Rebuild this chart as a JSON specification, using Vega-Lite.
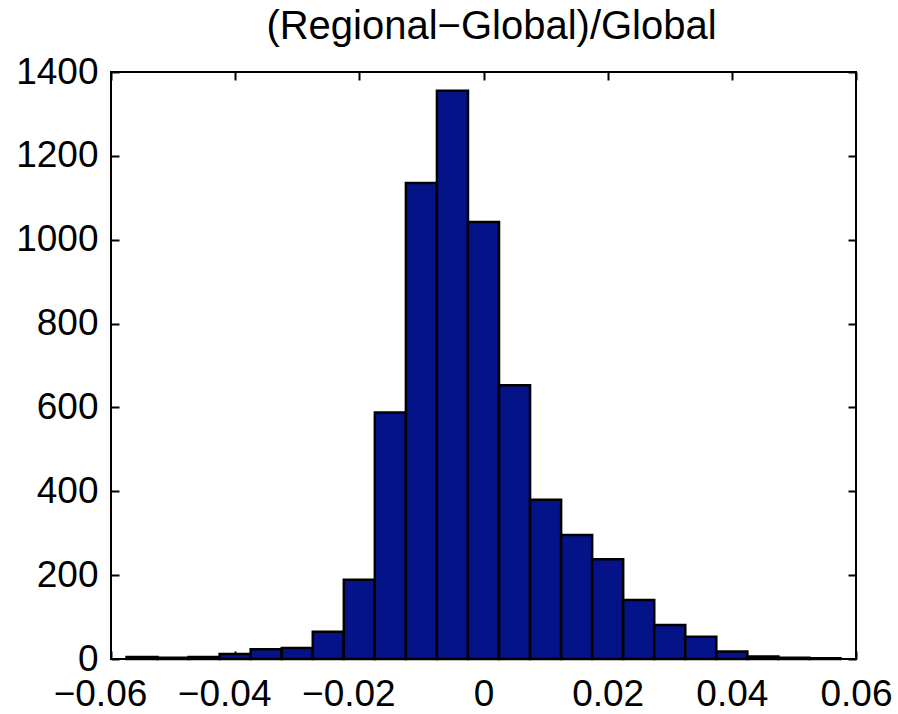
{
  "$schema": "https://vega.github.io/schema/vega-lite/v6.json",
  "width": 745,
  "height": 587,
  "autosize": {"type": "none"},
  "padding": {"left": 111, "top": 72, "right": 42, "bottom": 55},
  "background": "white",
  "config": {
    "view": {"stroke": "black", "strokeWidth": 2},
    "font": "Liberation Sans"
  },
  "title": {
    "text": "(Regional\u2212Global)/Global",
    "fontSize": 40,
    "fontWeight": "normal",
    "font": "Liberation Sans",
    "color": "black",
    "baseline": "alphabetic",
    "offset": -26,
    "dx": 8,
    "anchor": "middle",
    "frame": "group"
  },
  "data": {
    "values": [
      {"bin_start": -0.0575, "bin_end": -0.0525, "count": 5},
      {"bin_start": -0.0525, "bin_end": -0.0475, "count": 3},
      {"bin_start": -0.0475, "bin_end": -0.0425, "count": 5},
      {"bin_start": -0.0425, "bin_end": -0.0375, "count": 12},
      {"bin_start": -0.0375, "bin_end": -0.0325, "count": 23},
      {"bin_start": -0.0325, "bin_end": -0.0275, "count": 26},
      {"bin_start": -0.0275, "bin_end": -0.0225, "count": 65},
      {"bin_start": -0.0225, "bin_end": -0.0175, "count": 189},
      {"bin_start": -0.0175, "bin_end": -0.0125, "count": 588},
      {"bin_start": -0.0125, "bin_end": -0.0075, "count": 1135},
      {"bin_start": -0.0075, "bin_end": -0.0025, "count": 1355},
      {"bin_start": -0.0025, "bin_end": 0.0025, "count": 1042},
      {"bin_start": 0.0025, "bin_end": 0.0075, "count": 653},
      {"bin_start": 0.0075, "bin_end": 0.0125, "count": 380},
      {"bin_start": 0.0125, "bin_end": 0.0175, "count": 296},
      {"bin_start": 0.0175, "bin_end": 0.0225, "count": 238},
      {"bin_start": 0.0225, "bin_end": 0.0275, "count": 141},
      {"bin_start": 0.0275, "bin_end": 0.0325, "count": 81},
      {"bin_start": 0.0325, "bin_end": 0.0375, "count": 53},
      {"bin_start": 0.0375, "bin_end": 0.0425, "count": 18},
      {"bin_start": 0.0425, "bin_end": 0.0475, "count": 6},
      {"bin_start": 0.0475, "bin_end": 0.0525, "count": 3},
      {"bin_start": 0.0525, "bin_end": 0.0575, "count": 2}
    ]
  },
  "layer": [
    {
      "mark": {"type": "bar", "fill": "#041488", "stroke": "black", "strokeWidth": 2.5},
      "encoding": {
        "x": {
          "field": "bin_start", "type": "quantitative",
          "scale": {"domain": [-0.06, 0.06], "nice": false, "zero": false},
          "axis": {
            "title": null, "values": [-0.06, -0.04, -0.02, 0, 0.02, 0.04, 0.06],
            "labelExpr": "datum.value < 0 ? '\u2212' + format(-datum.value, '.2f') : datum.value == 0 ? '0' : format(datum.value, '.2f')",
            "labelOffset": {"condition": {"test": "datum.value < 0", "value": -11}, "value": 0},
            "labelFontSize": 37, "labelFont": "Liberation Sans", "labelColor": "black",
            "labelPadding": 25, "tickSize": -8, "tickWidth": 2, "tickColor": "black",
            "domain": false, "grid": false, "labelFlush": false, "labelOverlap": false
          }
        },
        "x2": {"field": "bin_end"},
        "y": {
          "field": "count", "type": "quantitative",
          "scale": {"domain": [0, 1400], "nice": false},
          "axis": {
            "title": null, "values": [0, 200, 400, 600, 800, 1000, 1200, 1400], "format": "d",
            "labelFontSize": 37, "labelFont": "Liberation Sans", "labelColor": "black",
            "labelPadding": 21, "tickSize": -8, "tickWidth": 2, "tickColor": "black",
            "domain": false, "grid": false, "labelFlush": false, "labelOverlap": false
          }
        },
        "y2": {"datum": 0}
      }
    },
    {
      "mark": {"type": "bar", "opacity": 0},
      "encoding": {
        "x": {
          "field": "bin_start", "type": "quantitative",
          "scale": {"domain": [-0.06, 0.06], "nice": false, "zero": false},
          "axis": {
            "orient": "top", "title": null, "values": [-0.06, -0.04, -0.02, 0, 0.02, 0.04, 0.06],
            "labels": false, "tickSize": -8, "tickWidth": 2, "tickColor": "black",
            "domain": false, "grid": false
          }
        },
        "x2": {"field": "bin_end"},
        "y": {
          "field": "count", "type": "quantitative",
          "scale": {"domain": [0, 1400], "nice": false},
          "axis": {
            "orient": "right", "title": null, "values": [0, 200, 400, 600, 800, 1000, 1200, 1400],
            "labels": false, "tickSize": -8, "tickWidth": 2, "tickColor": "black",
            "domain": false, "grid": false
          }
        },
        "y2": {"datum": 0}
      }
    }
  ],
  "resolve": {"axis": {"x": "independent", "y": "independent"}}
}
